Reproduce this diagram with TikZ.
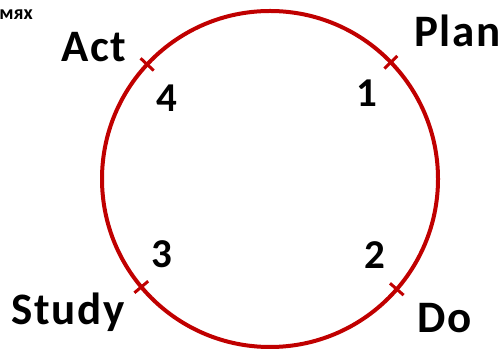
\documentclass[tikz,border=0pt]{standalone}
\usepackage{fontspec}
\setmainfont{Carlito}
\usepackage{tikz}
\usetikzlibrary{positioning, calc}
\definecolor{pdsared}{RGB}{192,0,0}

\begin{document}
\begin{tikzpicture}[x=1pt, y=1pt,
        label/.style={font=\fontsize{45}{45}\selectfont\bfseries\addfontfeatures{LetterSpace=4}, inner sep=0pt, anchor=base west},
        num/.style={font=\fontsize{41}{41}\selectfont\bfseries, inner sep=0pt, anchor=base west},
        tick/.style={pdsared, line width=3pt}]
        \useasboundingbox (0, 0) rectangle (502, 352);

        % Ciclo
        \coordinate (c) at (270, 173);
        \draw[pdsared, line width=4pt] (c) circle[radius=168pt];

        % Tacche
        \foreach \ang/\nm in {44/tplan, 319/tdo, 220/tstudy, 137/tact} {
            \coordinate (\nm) at ($(c) + (\ang:168pt)$);
            \draw[tick] ($(c) + (\ang:159pt)$) -- ($(c) + (\ang:177pt)$);
        }

        % Fasi
        \node[label] (plan) at (414, 305) {Plan};
        \node[label] (do) at (417, 19) {Do};
        \node[label] (study) at (11, 27) {Study};
        \node[label] (act) at (61, 290) {Act};

        % Numeri
        \node[num] (n1) at (356, 245) {1};
        \node[num] (n2) at (364, 83) {2};
        \node[num] (n3) at (151, 84) {3};
        \node[num] (n4) at (156, 240) {4};

        % Resto del titolo
        \node[font=\fontsize{20}{20}\selectfont\bfseries, inner sep=0pt, anchor=base east] (rest) at (33, 332) {мях};
    \end{tikzpicture}
\end{document}
